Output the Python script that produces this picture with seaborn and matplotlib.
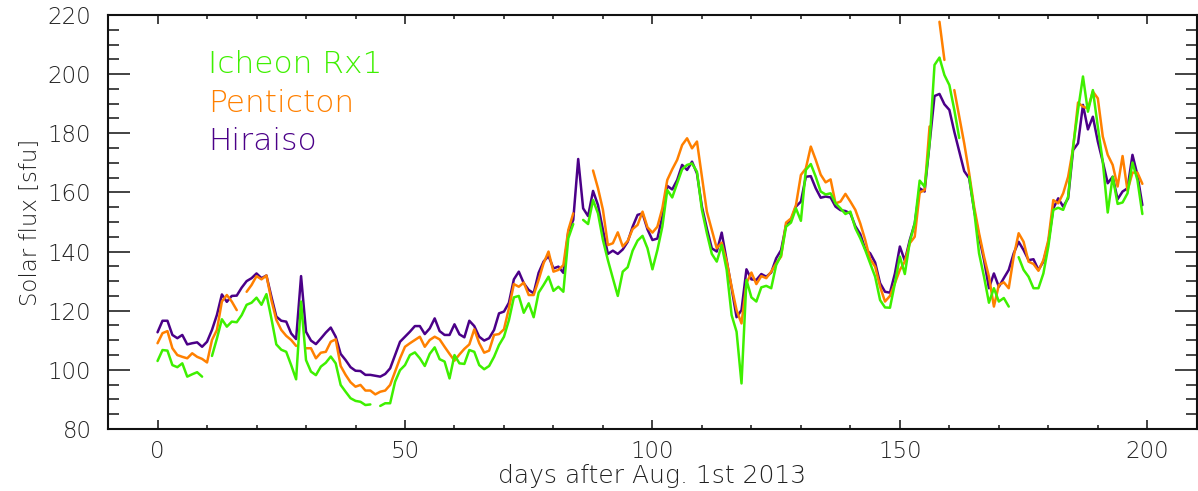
import seaborn as sns
import pandas as pd
import matplotlib.pyplot as plt
import numpy as np

nan = np.nan

# daily solar flux (sfu), day 0 = Aug 1st 2013
days = np.arange(200)

hiraiso = [
    112.7, 116.6, 116.6, 111.8, 110.7, 111.8, 108.6, 109.0, 109.3, 107.8,
    109.5, 113.5, 118.6, 125.5, 123.0, 125.0, 125.1, 127.8, 130.0, 131.0,
    132.6, 131.0, 131.9, 124.8, 118.0, 116.6, 116.3, 112.3, 110.4, 131.7,
    112.9, 109.9, 108.7, 110.6, 112.6, 114.3, 111.2, 105.4, 103.3, 100.9,
    99.7, 99.6, 98.3, 98.3, 98.0, 97.7, 98.6, 100.5, 105.0, 109.5,
    111.2, 112.9, 114.8, 114.8, 112.1, 114.0, 117.4, 113.1, 111.8, 111.8,
    115.4, 112.0, 111.0, 116.6, 114.8, 111.2, 109.9, 110.7, 113.5, 119.1,
    119.7, 122.7, 130.6, 133.2, 129.3, 127.0, 125.9, 132.8, 136.6, 138.5,
    134.3, 134.9, 132.8, 146.7, 150.7, 171.3, 154.6, 152.0, 160.5, 155.7,
    147.3, 139.2, 140.3, 139.2, 140.7, 143.3, 148.4, 152.4, 152.9, 147.5,
    143.9, 144.4, 151.8, 162.2, 161.0, 164.2, 169.3, 167.6, 170.4, 166.4,
    155.2, 147.8, 141.1, 140.0, 146.4, 137.1, 127.6, 117.8, 120.2, 134.0,
    130.6, 130.4, 132.4, 131.5, 132.9, 137.7, 140.5, 149.0, 150.7, 155.2,
    156.9, 165.3, 165.5, 161.4, 158.2, 158.6, 158.3, 155.2, 154.0, 153.7,
    152.9, 148.6, 145.9, 140.8, 139.4, 136.3, 129.3, 126.4, 126.1, 132.6,
    141.7, 136.9, 143.9, 149.5, 161.4, 160.3, 176.6, 192.6, 193.3, 189.8,
    187.9, 180.5, 173.8, 167.2, 164.8, 154.0, 145.0, 137.2, 127.6, 132.6,
    128.1, 131.0, 133.8, 139.4, 143.3, 140.5, 137.1, 137.4, 133.8, 136.6,
    143.0, 154.6, 158.0, 155.2, 158.0, 174.3, 176.6, 189.6, 181.3, 185.6,
    177.2, 170.4, 163.1, 165.3, 157.7, 160.3, 161.4, 172.7, 165.9, 155.7,
]

penticton = [
    109.0, 112.4, 113.1, 107.3, 105.0, 104.4, 103.9, 105.6, 104.4, 103.7,
    102.5, 110.1, 113.5, 123.1, 125.3, 123.1, 120.2, nan, 126.4, 128.7,
    131.7, 130.6, 131.9, 123.6, 116.9, 113.5, 111.5, 110.1, 108.1, nan,
    107.3, 107.3, 103.9, 105.8, 106.1, 109.5, 110.3, 101.3, 98.3, 95.8,
    94.3, 94.9, 93.0, 93.0, 91.7, 92.6, 93.0, 94.9, 99.4, 103.9,
    107.8, 109.0, 110.1, 111.2, 107.8, 110.1, 111.2, 110.3, 107.8, 105.4,
    103.1, 105.2, 107.1, 108.6, 113.7, 109.0, 105.8, 106.5, 111.8, 112.1,
    113.7, 120.8, 129.0, 128.1, 129.5, 125.3, 125.3, 130.4, 136.0, 140.0,
    133.2, 133.8, 135.4, 147.3, 152.9, nan, nan, nan, 167.4, 161.4,
    154.1, 142.2, 142.8, 146.5, 141.7, 143.6, 147.6, 149.0, 153.5, 148.2,
    146.4, 148.4, 154.6, 164.2, 167.8, 171.0, 176.0, 178.3, 174.9, 177.2,
    165.3, 153.5, 147.3, 141.1, 143.0, 136.6, 128.1, 120.2, 115.7, 129.3,
    132.9, 129.0, 131.7, 131.0, 133.2, 136.0, 138.3, 149.8, 151.2, 155.7,
    165.9, 168.1, 175.5, 171.0, 166.0, 163.4, 164.4, 156.3, 156.9, 159.5,
    156.9, 154.1, 149.5, 143.9, 137.4, 134.9, 128.1, 123.1, 125.0, 129.3,
    133.8, 136.6, 142.8, 145.0, 159.9, 160.8, 182.3, nan, 217.7, 204.8,
    nan, 194.6, 185.6, 176.6, 166.5, 155.2, 146.2, 138.3, 131.5, 121.4,
    128.7, 129.6, 127.6, 138.3, 146.2, 143.3, 136.6, 135.8, 133.5, 137.1,
    143.9, 157.4, 156.3, 159.7, 165.3, 174.9, 190.4, 189.0, 188.4, 194.1,
    191.8, 178.9, 172.7, 169.3, 162.0, 172.3, 160.6, 166.7, 166.7, 162.9,
]

icheon = [
    103.0, 106.7, 106.5, 101.6, 100.9, 102.2, 97.7, 98.5, 99.2, 97.7,
    nan, 104.7, 110.6, 117.1, 114.6, 116.3, 116.1, 118.5, 122.0, 122.7,
    124.4, 122.0, 125.6, 117.4, 108.6, 106.8, 106.1, 101.6, 96.8, 123.1,
    103.3, 99.4, 98.2, 101.1, 102.4, 104.5, 102.2, 94.9, 92.6, 90.4,
    89.5, 89.2, 88.1, 88.3, nan, 87.8, 88.7, 88.7, 96.0, 99.9,
    101.6, 105.0, 105.9, 103.9, 101.3, 105.4, 107.6, 103.6, 102.8, 97.1,
    105.0, 102.2, 102.0, 106.7, 106.1, 101.6, 100.2, 101.3, 104.4, 108.4,
    111.2, 116.8, 124.5, 125.0, 119.3, 122.5, 117.8, 126.1, 128.7, 131.5,
    126.7, 128.1, 126.4, 144.5, 149.3, nan, 150.7, 149.3, 157.4, 152.9,
    143.9, 137.1, 131.0, 125.0, 133.2, 134.7, 140.3, 143.7, 145.3, 141.1,
    134.0, 140.5, 148.4, 160.8, 158.3, 163.1, 167.8, 169.3, 169.8, 167.0,
    154.1, 146.2, 139.2, 136.6, 142.2, 133.8, 118.5, 112.9, 95.4, 130.4,
    124.5, 123.1, 127.9, 128.4, 127.6, 135.4, 138.8, 148.4, 149.8, 154.6,
    150.4, 167.6, 169.6, 165.3, 160.3, 159.3, 159.7, 156.3, 154.6, 152.7,
    153.5, 147.9, 144.5, 140.5, 136.0, 131.5, 123.6, 121.1, 121.0, 129.3,
    138.3, 132.4, 143.3, 149.5, 164.0, 161.9, 176.6, 203.1, 205.6, 199.7,
    196.3, 187.9, 178.4, nan, 165.3, 154.0, 139.4, 131.5, 122.7, 127.6,
    123.1, 124.3, 121.4, nan, 138.1, 133.8, 131.5, 127.6, 127.6, 132.6,
    141.7, 154.1, 154.8, 154.1, 158.6, 175.5, 187.9, 199.2, 187.3, 194.6,
    182.2, 170.4, 153.2, 165.3, 156.1, 156.6, 159.7, 170.1, 164.2, 152.7,
]

stations = ['Icheon Rx1', 'Penticton', 'Hiraiso']
colors = {'Icheon Rx1': '#3ef000', 'Penticton': '#ff8000', 'Hiraiso': '#4b0088'}
series = {'Icheon Rx1': icheon, 'Penticton': penticton, 'Hiraiso': hiraiso}


def segments(name, values):
    """Long table of one station, each unbroken run of days gets its own unit id."""
    df = pd.DataFrame({'day': days, 'flux': values})
    df['seg'] = df['flux'].isna().cumsum()
    df['station'] = name
    return df.dropna()


sns.set_style('ticks')
plt.rcParams['font.family'] = ['DejaVu Sans']
plt.rcParams['font.weight'] = 'light'
plt.rcParams['axes.labelweight'] = 'light'
fig, ax = plt.subplots(figsize=(11.98, 4.91), dpi=100)
fig.subplots_adjust(left=0.0902, right=0.999, top=0.9695, bottom=0.1263)

for name in ['Hiraiso', 'Penticton', 'Icheon Rx1']:
    sns.lineplot(data=segments(name, series[name]), x='day', y='flux',
                 units='seg', estimator=None, color=colors[name],
                 linewidth=1.8, ax=ax, legend=False)

ax.set_xlim(-10, 210)
ax.set_ylim(80, 220)
ax.set_xticks(np.arange(0, 201, 50))
ax.set_xticks(np.arange(-10, 211, 10), minor=True)
ax.set_yticks(np.arange(80, 221, 20))
ax.set_yticks(np.arange(80, 221, 5), minor=True)
ax.tick_params(axis='x', which='major', direction='in', length=6.5, width=1.2,
               top=True, labelsize=16.5, pad=8, colors='#222222')
ax.tick_params(axis='x', which='minor', direction='in', length=3.2, width=1.2, top=True)
ax.tick_params(axis='y', which='major', direction='in', length=16, width=1.2,
               right=True, labelsize=16.5, pad=12, colors='#222222')
ax.tick_params(axis='y', which='minor', direction='in', length=8, width=1.2, right=True)
for s in ax.spines.values():
    s.set_linewidth(1.5)
    s.set_color('#111111')

ax.set_xlabel('days after Aug. 1st 2013', fontsize=18, color='#222222',
              labelpad=1, fontweight='light')
ax.set_ylabel('Solar flux [sfu]', fontsize=16.5, color='#222222',
              labelpad=5, fontweight='light')

for i, name in enumerate(stations):
    ax.text(0.092, 0.88 - i * 0.093, name, transform=ax.transAxes, fontsize=22.5,
            color=colors[name], va='center', ha='left')

fig.savefig('out.png', dpi=100)
